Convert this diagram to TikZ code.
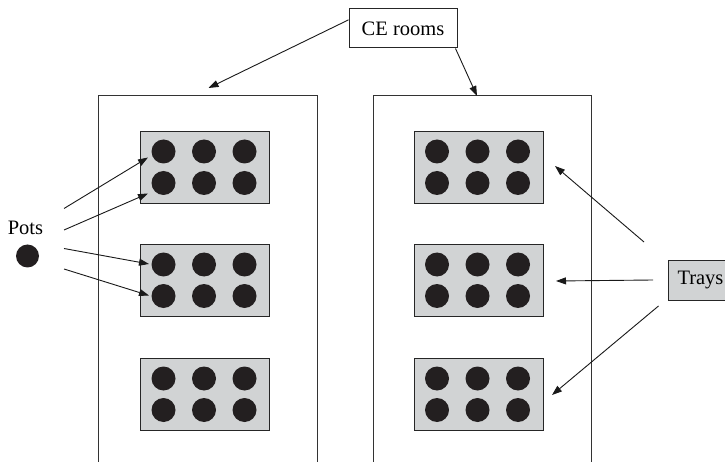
\documentclass[tikz,border=0pt]{standalone}
\usepackage{fontspec}
\setmainfont{Liberation Serif}
\usetikzlibrary{arrows.meta}
\definecolor{traygray}{HTML}{D1D3D4}
\definecolor{potblack}{HTML}{231F20}
\begin{document}
\begin{tikzpicture}[x=1pt,y=-1pt,
  room/.style={draw=black!80, line width=1pt, minimum height=400pt, inner sep=0pt, anchor=north west},
  tray/.style={draw=black!85, fill=traygray, line width=1.1pt, minimum width=129pt, minimum height=72pt, inner sep=0pt, anchor=north west},
  pot/.style={circle, fill=potblack, minimum size=24pt, inner sep=0pt},
  lbl/.style={font=\fontsize{20.5}{24}\selectfont},
  lblbox/.style={lbl, draw=black!85, line width=1pt, minimum height=39pt, inner sep=0pt},
  arr/.style={-{Triangle[length=10pt,width=7pt]}, line width=0.9pt, draw=black!90}]
\useasboundingbox (0,0) rectangle (725,462);
\clip (0,0) rectangle (725,462);
\fill[white] (0,0) rectangle (725,462);
% rooms
\node[room, minimum width=219pt] (roomL) at (98,95) {};
\node[room, minimum width=218pt] (roomR) at (373,95) {};
% trays and pots
\foreach \tx/\ty/\n in {140/131/L1, 140/244/L2, 140/358/L3, 413.5/131/R1, 413.5/244/R2, 413.5/358/R3} {
  \node[tray] (t\n) at (\tx,\ty) {};
  \foreach \dx [count=\i] in {23.5,64,104.5} {
    \foreach \dy [count=\j] in {20.5,52} {
      \node[pot] (p\n-\j\i) at (\tx+\dx,\ty+\dy) {};
    }
  }
}
% labels
\node[lbl] (potslbl) at (25.5,228) {Pots};
\node[pot, minimum size=23pt] (pot) at (27.5,256) {};
\node[lblbox, fill=white, minimum width=108pt] (ce) at (403,28.5) {CE rooms};
\node[lblbox, fill=traygray, anchor=west, text width=62pt, align=left, inner xsep=9pt] (trays) at (668,280.5) {Trays};
% coordinates
\coordinate (ceLtip) at (208.5,88);
\coordinate (ceRtip) at (477,96);
\coordinate (ps1) at (64,208.5);
\coordinate (ps2) at (64,230);
\coordinate (ps3) at (64,248.5);
\coordinate (ps4) at (64,269);
\coordinate (pt1) at (148,157.5);
\coordinate (pt2) at (148,193.5);
\coordinate (pt3) at (149,264);
\coordinate (pt4) at (149,295.5);
\coordinate (ts1) at (644,242);
\coordinate (ts2) at (653,280);
\coordinate (ts3) at (658.5,306);
\coordinate (tt1) at (555,166);
\coordinate (tt2) at (556,281);
\coordinate (tt3) at (552,395);
% arrows
\draw[arr] (ce.171) -- (ceLtip);
\draw[arr] ([xshift=-2pt]ce.south east) -- (ceRtip);
\foreach \k in {1,2,3,4} { \draw[arr] (ps\k) -- (pt\k); }
\foreach \k in {1,2,3} { \draw[arr] (ts\k) -- (tt\k); }
\end{tikzpicture}
\end{document}
